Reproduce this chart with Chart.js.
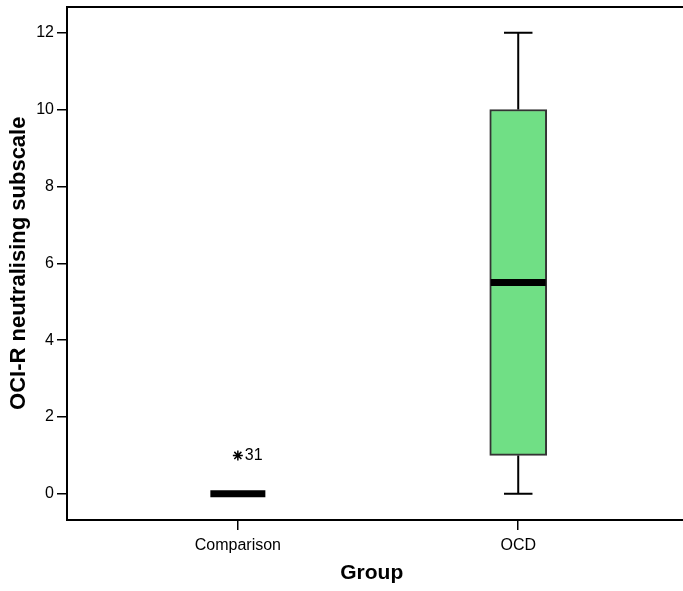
<!DOCTYPE html>
<html>
<head>
<meta charset="utf-8">
<script src="https://cdn.jsdelivr.net/npm/chart.js@4.4.1/dist/chart.umd.min.js"></script>
<style>
  html, body { margin: 0; padding: 0; background: #fff; }
  #wrap { width: 683px; height: 591px; }
</style>
</head>
<body>
<div id="wrap"><canvas id="chart"></canvas></div>
<script>
// box plot summary per group
const groups = ['Comparison', 'OCD'];
const whiskerLow = [0, 0];
const q1 = [0, 1];
const median = [0, 5.5];
const q3 = [0, 10];
const whiskerHigh = [0, 12];

// extreme values (star) with case labels
const outlierGroup = [1];
const outlierValue = [1];
const outlierLabel = ['31'];

const yTicks = [0, 2, 4, 6, 8, 10, 12];

const boxColor = '#70df85';
const fontFamily = '"Liberation Sans", Arial, sans-serif';

// whiskers, caps, medians, outlier labels and frame lines
const boxExtras = {
    id: 'boxExtras',
    afterDatasetsDraw(chart) {
        const ctx = chart.ctx;
        const x = chart.scales.x, y = chart.scales.y;
        const bars = chart.getDatasetMeta(0).data;
        ctx.save();
        ctx.lineCap = 'butt';
        groups.forEach((g, i) => {
            const cx = x.getPixelForValue(i + 1);
            const half = bars[i].width / 2;
            ctx.strokeStyle = '#000';
            ctx.lineWidth = 2;
            if (whiskerHigh[i] > q3[i]) {
                ctx.beginPath();
                ctx.moveTo(cx, y.getPixelForValue(q3[i]));
                ctx.lineTo(cx, y.getPixelForValue(whiskerHigh[i]));
                ctx.moveTo(cx - half / 2, y.getPixelForValue(whiskerHigh[i]));
                ctx.lineTo(cx + half / 2, y.getPixelForValue(whiskerHigh[i]));
                ctx.stroke();
            }
            if (whiskerLow[i] < q1[i]) {
                ctx.beginPath();
                ctx.moveTo(cx, y.getPixelForValue(q1[i]));
                ctx.lineTo(cx, y.getPixelForValue(whiskerLow[i]));
                ctx.moveTo(cx - half / 2, y.getPixelForValue(whiskerLow[i]));
                ctx.lineTo(cx + half / 2, y.getPixelForValue(whiskerLow[i]));
                ctx.stroke();
            }
            // median
            ctx.lineWidth = 7;
            ctx.beginPath();
            ctx.moveTo(cx - half + 1, y.getPixelForValue(median[i]));
            ctx.lineTo(cx + half - 1, y.getPixelForValue(median[i]));
            ctx.stroke();
        });
        // case labels next to the stars
        ctx.fillStyle = '#000';
        ctx.font = '16px ' + fontFamily;
        ctx.textBaseline = 'middle';
        ctx.textAlign = 'left';
        outlierLabel.forEach((lab, i) => {
            ctx.fillText(lab, x.getPixelForValue(outlierGroup[i]) + 7, y.getPixelForValue(outlierValue[i]));
        });
        // top frame line, and the bottom axis line carried to the canvas edge
        const a = chart.chartArea;
        ctx.lineWidth = 2;
        ctx.beginPath();
        ctx.moveTo(a.left, Math.round(a.top));
        ctx.lineTo(chart.width, Math.round(a.top));
        ctx.moveTo(a.right - 1, Math.round(a.bottom));
        ctx.lineTo(chart.width, Math.round(a.bottom));
        ctx.stroke();
        ctx.restore();
    }
};

new Chart(document.getElementById('chart'), {
    type: 'scatter',
    data: {
        datasets: [{
            type: 'bar',
            data: groups.map((g, i) => ({ x: i + 1, y: [q1[i], q3[i]] })),
            backgroundColor: boxColor,
            borderColor: '#333',
            borderWidth: 2,
            borderSkipped: false,
            barThickness: 57
        }, {
            type: 'scatter',
            data: outlierGroup.map((g, i) => ({ x: g, y: outlierValue[i] })),
            pointStyle: 'star',
            radius: 5,
            borderColor: '#000',
            borderWidth: 1.5
        }]
    },
    plugins: [boxExtras],
    options: {
        responsive: true,
        maintainAspectRatio: false,
        animation: false,
        layout: { padding: { top: 6, right: 0, left: 0, bottom: 0 } },
        plugins: { legend: { display: false }, tooltip: { enabled: false } },
        scales: {
            x: {
                type: 'linear',
                offset: false,
                min: 0.3906,
                max: 2.5645,
                afterBuildTicks(scale) { scale.ticks = groups.map((g, i) => ({ value: i + 1 })); },
                afterFit(scale) {
                    scale.height = 71;
                    scale.paddingLeft = 0;
                    scale.paddingRight = 0;
                },
                grid: { offset: false, drawOnChartArea: false, drawTicks: true, tickLength: 10, color: '#000', lineWidth: 1.5 },
                border: { color: '#000', width: 2 },
                ticks: {
                    color: '#000',
                    padding: 6,
                    maxRotation: 0,
                    autoSkip: false,
                    font: { family: fontFamily, size: 16 },
                    callback: (v) => groups[v - 1]
                },
                title: {
                    display: true,
                    text: 'Group',
                    color: '#000',
                    padding: { top: 0, bottom: 5 },
                    font: { family: fontFamily, size: 21, weight: 'bold' }
                }
            },
            y: {
                min: -0.68,
                max: 12.68,
                afterBuildTicks(scale) { scale.ticks = yTicks.map(v => ({ value: v })); },
                afterFit(scale) {
                    scale.width = 67;
                    scale.paddingTop = 0;
                    scale.paddingBottom = 0;
                },
                grid: { drawOnChartArea: false, drawTicks: true, tickLength: 10, color: '#000', lineWidth: 1.5 },
                border: { color: '#000', width: 2 },
                ticks: {
                    color: '#000',
                    padding: 3,
                    font: { family: fontFamily, size: 16 }
                },
                title: {
                    display: true,
                    text: 'OCI-R neutralising subscale',
                    color: '#000',
                    padding: { top: 6, bottom: 0 },
                    font: { family: fontFamily, size: 22, weight: 'bold' }
                }
            }
        }
    }
});
</script>
</body>
</html>
